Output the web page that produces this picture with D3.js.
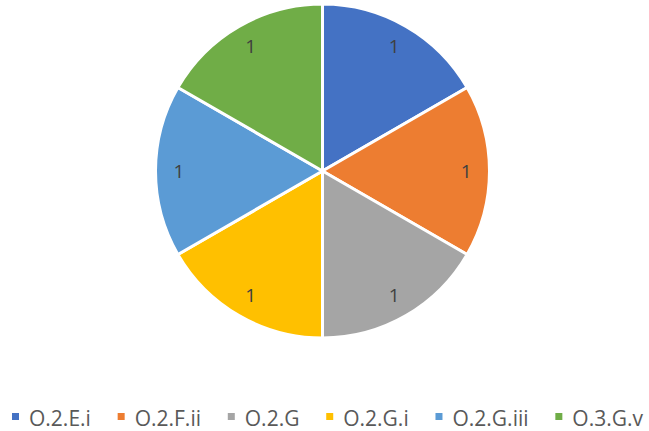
<!DOCTYPE html>
<html>
<head>
<meta charset="utf-8">
<script src="https://cdn.jsdelivr.net/npm/d3@7"></script>
<style>
  body { margin: 0; background: #fff; }
  text { font-family: "Open Sans", "Liberation Sans", sans-serif; }
</style>
</head>
<body>
<svg></svg>
<script>
let svgWidth = 649;
let svgHeight = 431;

let categories = ["O.2.E.i", "O.2.F.ii", "O.2.G", "O.2.G.i", "O.2.G.iii", "O.3.G.v"];
let values = [1, 1, 1, 1, 1, 1];
let colors = ["#4472C4", "#ED7D31", "#A5A5A5", "#FFC000", "#5B9BD5", "#70AD47"];

let cx = 322.5, cy = 171, radius = 167;

var svg = d3.select("svg")
    .attr("width", svgWidth)
    .attr("height", svgHeight);

let data = categories.map((c, i) => ({ name: c, value: values[i], color: colors[i] }));

let pie = d3.pie().value(d => d.value).sort(null);
let arc = d3.arc().innerRadius(0).outerRadius(radius);
let labelArc = d3.arc().innerRadius(radius * 0.86).outerRadius(radius * 0.86);

let g = svg.append("g").attr("transform", `translate(${cx}, ${cy})`);

g.selectAll("path")
    .data(pie(data))
    .enter()
    .append("path")
    .attr("d", arc)
    .attr("fill", d => d.data.color)
    .attr("stroke", "#fff")
    .attr("stroke-width", 3);

g.selectAll("text.lbl")
    .data(pie(data))
    .enter()
    .append("text")
    .attr("class", "lbl")
    .attr("transform", d => `translate(${labelArc.centroid(d)})`)
    .attr("text-anchor", "middle")
    .attr("dy", "0.36em")
    .attr("font-size", "19px")
    .attr("fill", "#404040")
    .text(d => d.data.value);

// Legend: spread items between x=12 and x=643
let legend = svg.append("g").attr("transform", "translate(12, 426)");
let items = legend.selectAll("g")
    .data(data)
    .enter()
    .append("g");
items.append("rect")
    .attr("x", 0).attr("y", -13)
    .attr("width", 7).attr("height", 7)
    .attr("fill", d => d.color);
items.append("text")
    .attr("x", 17).attr("y", 0)
    .attr("font-size", "21px")
    .attr("fill", "#595959")
    .text(d => d.name);
let widths = items.select("text").nodes().map(n => 17 + n.getComputedTextLength());
let gap = (631 - d3.sum(widths)) / (data.length - 1);
let x = 0;
items.attr("transform", (d, i) => {
    let t = `translate(${x}, 0)`;
    x += widths[i] + gap;
    return t;
});
</script>
</body>
</html>
